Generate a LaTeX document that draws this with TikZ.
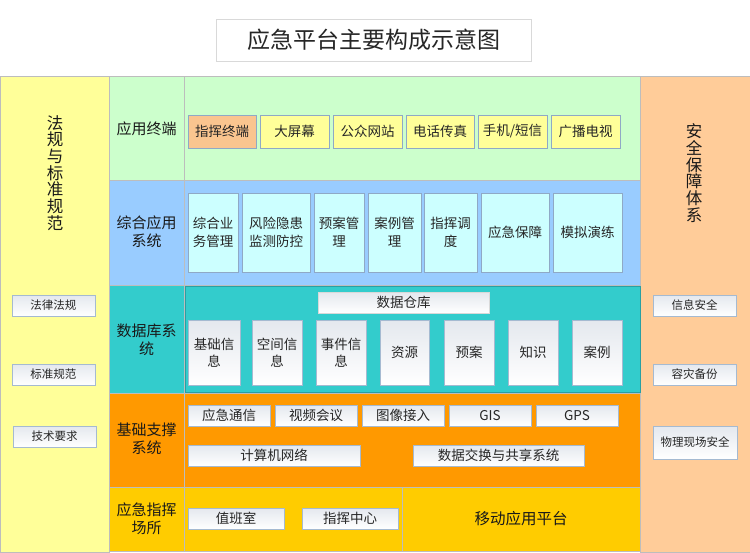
\documentclass[tikz,border=0pt]{standalone}
\usepackage{fontspec}
\setmainfont{Noto Sans CJK SC}
\usepackage{xcolor}
\usepackage{tikz}
\definecolor{boxline}{HTML}{8FA9C6}
\definecolor{cellline}{HTML}{BDBDBD}
\definecolor{lawbg}{HTML}{FFFF99}
\definecolor{termbg}{HTML}{CCFFCC}
\definecolor{appbg}{HTML}{99CCFF}
\definecolor{databg}{HTML}{33CCCC}
\definecolor{dataline}{HTML}{2A9FA3}
\definecolor{basebg}{HTML}{FF9900}
\definecolor{sitebg}{HTML}{FFCC00}
\definecolor{safebg}{HTML}{FFCC99}
\definecolor{peach}{HTML}{FAC58F}
\definecolor{shade}{HTML}{E4E8EE}
\tikzset{
cell/.style = {draw=cellline, line width=1pt},
box/.style = {rectangle, draw=#1, line width=0.9pt, inner sep=0pt, align=center, text=black!85, font=\fontsize{13.5}{18}\selectfont},
box/.default = boxline, % thin blue-grey frame
termbox/.style = {box, fill=lawbg, minimum height=33pt},
appbox/.style = {box, fill=CCFFFF!100, minimum height=79pt},
whitebox/.style = {box=boxline!80, top color=shade, bottom color=white, minimum height=21pt},
label/.style = {align=center, text=black!90, font=\fontsize{15}{18}\selectfont},
sidetitle/.style = {align=center, text=black!90, font=\fontsize{16.5}{16.7}\selectfont},
}
\definecolor{CCFFFF}{HTML}{CCFFFF}

\begin{document}
\begin{tikzpicture}[x=1pt, y=-1pt]
    \useasboundingbox (0,0) rectangle (750,552);

    % title
    \node[rectangle, draw=black!15, line width=1pt, fill=white, minimum width=315pt, minimum height=42pt, font=\fontsize{23}{26}\selectfont, text=black!85] (title) at (373.5,40) {应急平台主要构成示意图};

    % side columns
    \draw[cell, fill=lawbg] (0,76) rectangle (109,552);
    \draw[cell, fill=safebg] (640,76) rectangle (750,552);
    \node[sidetitle] (lawTitle) at (55,173) {法\\规\\与\\标\\准\\规\\范};
    \node[sidetitle] (safeTitle) at (694,173) {安\\全\\保\\障\\体\\系};

    \node[whitebox, minimum width=83pt, font=\fontsize{11.5}{14}\selectfont] (lawA) at (53.5,305.5) {法律法规};
    \node[whitebox, minimum width=83pt, font=\fontsize{11.5}{14}\selectfont] (lawB) at (53.5,374.5) {标准规范};
    \node[whitebox, minimum width=83pt, font=\fontsize{11.5}{14}\selectfont] (lawC) at (54.5,436.5) {技术要求};
    \node[whitebox, minimum width=83pt, font=\fontsize{11.5}{14}\selectfont] (safeA) at (694.5,305.5) {信息安全};
    \node[whitebox, minimum width=83pt, font=\fontsize{11.5}{14}\selectfont] (safeB) at (694.5,374.5) {容灾备份};
    \node[whitebox, minimum width=84pt, minimum height=33pt, font=\fontsize{11.5}{14}\selectfont] (safeC) at (695,442.5) {物理现场安全};

    % row 1: terminals
    \draw[cell, fill=termbg] (109,76) rectangle (184,180);
    \draw[cell, fill=termbg] (184,76) rectangle (640,180);
    \node[label] (termLabel) at (146.5,129) {应用终端};
    \node[termbox, fill=peach, minimum width=68pt] (termA) at (222,131.5) {指挥终端};
    \node[termbox, minimum width=69pt] (termB) at (294.5,131.5) {大屏幕};
    \node[termbox, minimum width=69pt] (termC) at (367.5,131.5) {公众网站};
    \node[termbox, minimum width=68pt] (termD) at (440,131.5) {电话传真};
    \node[termbox, minimum width=69pt] (termE) at (512.5,131.5) {手机/短信};
    \node[termbox, minimum width=69pt] (termF) at (585.5,131.5) {广播电视};

    % row 2: applications
    \draw[cell, fill=appbg] (109,180) rectangle (184,285);
    \draw[cell, fill=appbg] (184,180) rectangle (640,285);
    \node[label] (appLabel) at (146.5,232) {综合应用\\系统};
    \node[appbox, minimum width=50pt] (appA) at (213,232.5) {综合业\\务管理};
    \node[appbox, minimum width=68pt] (appB) at (276,232.5) {风险隐患\\监测防控};
    \node[appbox, minimum width=50pt] (appC) at (339,232.5) {预案管\\理};
    \node[appbox, minimum width=53pt] (appD) at (394.5,232.5) {案例管\\理};
    \node[appbox, minimum width=53pt] (appE) at (450.5,232.5) {指挥调\\度};
    \node[appbox, minimum width=68pt] (appF) at (515,232.5) {应急保障};
    \node[appbox, minimum width=69pt] (appG) at (587.5,232.5) {模拟演练};

    % row 3: databases
    \draw[cell, fill=databg] (109,285) rectangle (184,393);
    \draw[draw=dataline, line width=1pt, fill=databg] (185,286) rectangle (640,392);
    \node[label] (dataLabel) at (146.5,340) {数据库系\\统};
    \node[whitebox, draw=white!85!black, minimum width=171pt] (store) at (403.5,302.5) {数据仓库};
    \node[whitebox, minimum width=52pt, minimum height=65pt, font=\fontsize{13.5}{17}\selectfont] (dataA) at (214,352.5) {基础信\\息};
    \node[whitebox, minimum width=50pt, minimum height=65pt, font=\fontsize{13.5}{17}\selectfont] (dataB) at (277,352.5) {空间信\\息};
    \node[whitebox, minimum width=50pt, minimum height=65pt, font=\fontsize{13.5}{17}\selectfont] (dataC) at (341,352.5) {事件信\\息};
    \node[whitebox, minimum width=49pt, minimum height=65pt] (dataD) at (404.5,352.5) {资源};
    \node[whitebox, minimum width=50pt, minimum height=65pt] (dataE) at (469,352.5) {预案};
    \node[whitebox, minimum width=50pt, minimum height=65pt] (dataF) at (533,352.5) {知识};
    \node[whitebox, minimum width=50pt, minimum height=65pt] (dataG) at (597,352.5) {案例};

    % row 4: support
    \draw[cell, fill=basebg] (109,393) rectangle (184,487);
    \draw[cell, fill=basebg] (184,393) rectangle (640,487);
    \node[label] (baseLabel) at (146.5,439) {基础支撑\\系统};
    \node[whitebox, minimum width=82pt] (baseA) at (229,415.5) {应急通信};
    \node[whitebox, minimum width=82pt] (baseB) at (316,415.5) {视频会议};
    \node[whitebox, minimum width=82pt] (baseC) at (403,415.5) {图像接入};
    \node[whitebox, minimum width=82pt] (baseD) at (490,415.5) {GIS};
    \node[whitebox, minimum width=82pt] (baseE) at (577,415.5) {GPS};
    \node[whitebox, minimum width=172pt] (baseF) at (274,455.5) {计算机网络};
    \node[whitebox, minimum width=171pt] (baseG) at (498.5,455.5) {数据交换与共享系统};

    % row 5: command sites
    \draw[cell, fill=sitebg] (109,487) rectangle (184,551);
    \draw[cell, fill=sitebg] (184,487) rectangle (402,551);
    \draw[cell, fill=sitebg] (402,487) rectangle (640,551);
    \node[label] (siteLabel) at (146.5,519) {应急指挥\\场所};
    \node[whitebox, minimum width=96pt] (siteA) at (236,518.5) {值班室};
    \node[whitebox, minimum width=96pt] (siteB) at (350,518.5) {指挥中心};
    \node[label, font=\fontsize{15.5}{18}\selectfont] (mobile) at (521,518.5) {移动应用平台};
\end{tikzpicture}
\end{document}
